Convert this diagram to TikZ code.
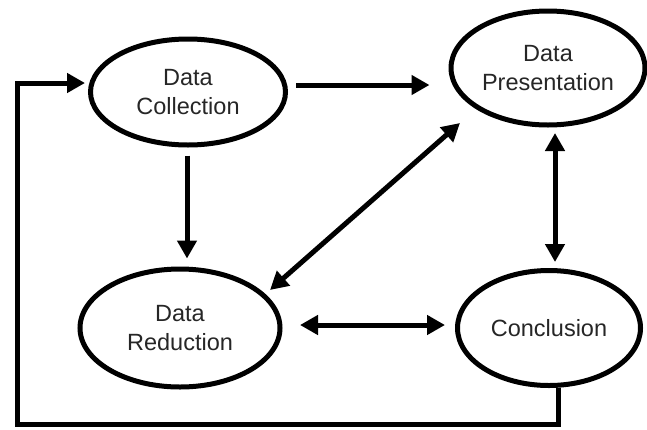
\documentclass[tikz,border=0pt]{standalone}
\usepackage{fontspec}
\setmainfont{Liberation Sans}
\usetikzlibrary{arrows.meta}
\usetikzlibrary{shapes.geometric}

\begin{document}
\begin{tikzpicture}[x=1pt, y=-1pt, >={Triangle[length=18pt,width=19pt]}, 
    main/.style = {draw, ellipse, line width=5pt, inner sep=0pt, align=center,
      text=black!85, font=\fontsize{23.5}{29}\selectfont},
    link/.style = {line width=5pt}]
    \useasboundingbox (0,0) rectangle (647,429);
    % Nodes

    \node[main, minimum width=195pt, minimum height=106pt] (1) at (188, 92) {Data\\Collection};
    \node[main, minimum width=194pt, minimum height=114pt] (2) at (548, 68) {Data\\Presentation};

    \node[main, minimum width=200pt, minimum height=118pt] (3) at (180, 328) {Data\\Reduction};
    \node[main, minimum width=183pt, minimum height=115pt] (4) at (549, 328) {Conclusion};

    % Edges

    \draw[link, ->] ([shift={(8,-7)}]1.east) -- ([shift={(-19,17)}]2.west);
    \draw[link, ->] ([shift={(-1,8)}]1.south) -- ([shift={(7,-8)}]3.north);
    \draw[link, <->] ([shift={(-88,55)}]2.center) -- ([shift={(90,-38)}]3.center);
    \draw[link, <->] ([shift={(7,65)}]2.center) -- ([shift={(6,-66)}]4.center);
    \draw[link, <->] ([shift={(120,-3)}]3.center) -- ([shift={(-104,-3)}]4.center);
    \draw[link, ->] ([xshift=9pt]4.south) -- ++(0,36) -| ++(-541,-341) -- ([shift={(-3,-9)}]1.west);

\end{tikzpicture}
\end{document}
